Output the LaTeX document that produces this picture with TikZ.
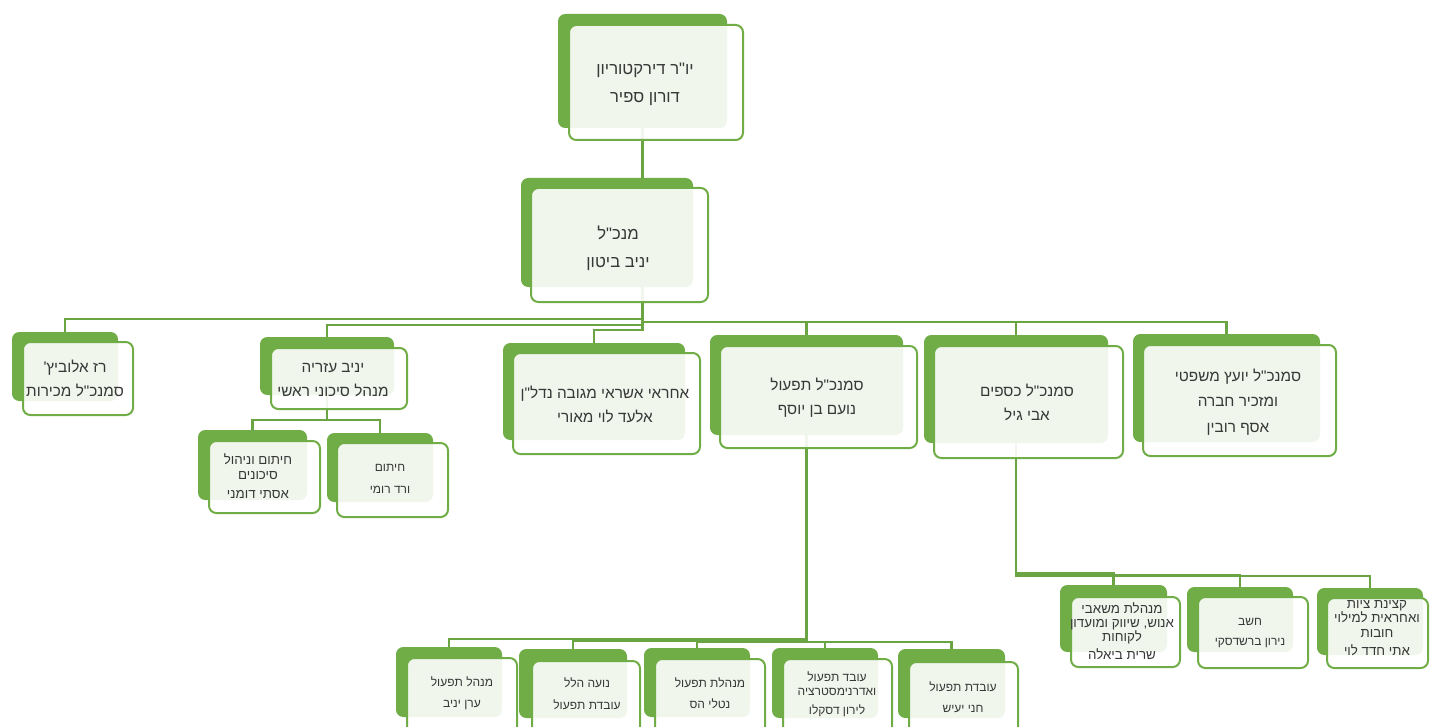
\documentclass[tikz,border=0pt]{standalone}
\usepackage{fontspec}
\newfontfamily\heb[Script=Hebrew]{Liberation Sans}
\TeXXeTstate=1
\usetikzlibrary{backgrounds}
\definecolor{gr}{HTML}{70AD47}
\definecolor{grline}{HTML}{6AA443}
\definecolor{tc}{HTML}{383838}
\newcommand{\hebline}[1]{\beginR #1\endR}
\newcommand{\orgbox}[9]{%
  \node[backbox, minimum width={(#4-#2)*0.75pt}, minimum height={(#5-#3)*0.75pt}] (#1B) at ({(#2+#4)/2},{(#3+#5)/2}) {};
  \node[frontbox, minimum width={(#8-#6)*0.75pt}, minimum height={(#9-#7)*0.75pt}] (#1F) at ({(#6+#8)/2},{(#7+#9)/2}) {};}
\tikzset{
  backbox/.style={rectangle, rounded corners=5.5pt, fill=gr, draw=none, inner sep=0pt, outer sep=0pt},
  frontbox/.style={rectangle, rounded corners=5.5pt, fill=white, fill opacity=0.9, draw=gr, draw opacity=1, line width=1.5pt, inner sep=0pt, outer sep=0pt},
  conn/.style={draw=grline, line width=1.6pt},
  tbig/.style={text=tc, align=center, inner sep=0pt, font={\heb\fontsize{12.5}{21}\selectfont}},
  tmid/.style={text=tc, align=center, inner sep=0pt, font={\heb\fontsize{11.5}{18}\selectfont}},
  tsmall/.style={text=tc, align=center, inner sep=0pt, font={\heb\fontsize{9}{10.5}\selectfont}},
  tsmallb/.style={text=tc, align=center, inner sep=0pt, font={\heb\fontsize{10}{10.8}\selectfont}},
}
\begin{document}
\begin{tikzpicture}[x=0.75pt,y=-0.75pt]
\useasboundingbox (0,0) rectangle (1430,727);
\clip (0,0) rectangle (1430,727);
% level 1
\orgbox{top}{558}{14}{727}{128}{569}{25}{743}{140}
\orgbox{ceo}{521}{178}{693}{287}{531}{188}{708}{302}
% level 2
\orgbox{raz}{12}{332}{118}{401}{23}{342}{133}{415}
\orgbox{yan}{260}{337}{394}{395}{271}{348}{407}{409}
\orgbox{ahr}{503}{343}{685}{440}{513}{353}{700}{454}
\orgbox{noam}{710}{335}{903}{435}{720}{346}{917}{448}
\orgbox{avi}{924}{335}{1108}{443}{934}{346}{1123}{458}
\orgbox{asaf}{1133}{334}{1320}{442}{1143}{345}{1336}{456}
% level 3 under Yaniv
\orgbox{hit}{198}{430}{307}{500}{209}{441}{320}{513}
\orgbox{ver}{327}{433}{433}{502}{337}{443}{448}{517}
% level 3 under Avi
\orgbox{shar}{1060}{585}{1167}{652}{1071}{597}{1180}{667}
\orgbox{hash}{1187}{587}{1293}{652}{1198}{597}{1308}{668}
\orgbox{kts}{1317}{588}{1423}{655}{1327}{598}{1428}{668}
% level 3 under Noam
\orgbox{eran}{396}{647}{502}{717}{407}{658}{517}{740}
\orgbox{noa}{519}{649}{627}{718}{532}{661}{640}{740}
\orgbox{nat}{644}{648}{750}{717}{655}{659}{765}{740}
\orgbox{lir}{772}{648}{878}{718}{783}{659}{892}{740}
\orgbox{hani}{898}{649}{1005}{718}{909}{662}{1018}{740}

% texts
\node[tbig] (topT) at (645,84) {\hebline{יו"ר דירקטוריון}\\\hebline{דורון ספיר}};
\node[tbig] (ceoT) at (618,248) {\hebline{מנכ"ל}\\\hebline{יניב ביטון}};
\node[tmid] (razT) at (75,378) {\hebline{רז אלוביץ'}\\\hebline{סמנכ"ל מכירות}};
\node[tmid] (yanT) at (333,380) {\hebline{יניב עזריה}\\\hebline{מנהל סיכוני ראשי}};
\node[tmid] (ahrT) at (605,404) {\hebline{אחראי אשראי מגובה נדל"ן}\\\hebline{אלעד לוי מאורי}};
\node[tmid] (noamT) at (817,398) {\hebline{סמנכ"ל תפעול}\\\hebline{נועם בן יוסף}};
\node[tmid] (aviT) at (1027,402) {\hebline{סמנכ"ל כספים}\\\hebline{אבי גיל}};
\node[tmid] (asafT) at (1238,402) {\hebline{סמנכ"ל יועץ משפטי}\\[1pt]\hebline{ומזכיר חברה}\\[1pt]\hebline{אסף רובין}};
\node[tsmallb] (hitT) at (258,476) {\hebline{חיתום וניהול}\\\hebline{סיכונים}\\[3.5pt]\hebline{אסתי דומני}};
\node[tsmall] (verT) at (390,479) {\hebline{חיתום}\\[6pt]\hebline{ורד רומי}};
\node[tsmallb] (sharT) at (1122,631) {\hebline{מנהלת משאבי}\\\hebline{אנוש, שיווק ומועדון}\\\hebline{לקוחות}\\[2.5pt]\hebline{שרית ביאלה}};
\node[tsmall] (hashT) at (1250,633) {\hebline{חשב}\\[5pt]\hebline{נירון ברשדסקי}};
\node[tsmallb] (ktsT) at (1377,628) {\hebline{קצינת ציות}\\\hebline{ואחראית למילוי}\\\hebline{חובות}\\[2.5pt]\hebline{אתי חדד לוי}};
\node[tsmall] (eranT) at (462,693) {\hebline{מנהל תפעול}\\[5pt]\hebline{ערן יניב}};
\node[tsmall] (noaT) at (587,694) {\hebline{נועה הלל}\\[6pt]\hebline{עובדת תפעול}};
\node[tsmall] (natT) at (710,693) {\hebline{מנהלת תפעול}\\[5pt]\hebline{נטלי הס}};
\node[tsmall] (lirT) at (837,694) {\hebline{עובד תפעול}\\\hebline{ואדרנימסטרציה}\\[4pt]\hebline{לירון דסקלו}};
\node[tsmall] (haniT) at (963,697) {\hebline{עובדת תפעול}\\[5pt]\hebline{חני יעיש}};

% connectors
\begin{scope}[on background layer]
\coordinate (ceoOut) at (topB.south |- ceoB.south);
\draw[conn] (topB.south) -- (topB.south |- ceoB.north);
\draw[conn] (ceoOut) -- ++(0,32) -| (razB.north);
\draw[conn] (ceoOut) -- ++(0,38) -| (yanB.north);
\draw[conn] (ceoOut) -- ++(0,43) -| (ahrB.north);
\draw[conn] (ceoOut) -- ++(0,35) -| (noamB.north);
\draw[conn] (ceoOut) -- ++(0,35) -| (aviB.north);
\draw[conn] (ceoOut) -- ++(0,35) -| (asafB.north);
\draw[conn] (yanB.south) -- ++(0,25) -| (hitB.north);
\draw[conn] (yanB.south) -- ++(0,25) -| (verB.north);
\draw[conn] (noamB.south) -- ++(0,204) -| (eranB.north);
\draw[conn] (noamB.south) -- ++(0,206) -| (noaB.north);
\draw[conn] (noamB.south) -- ++(0,207) -| (natB.north);
\draw[conn] (noamB.south) -- ++(0,207) -| (lirB.north);
\draw[conn] (noamB.south) -- ++(0,207) -| (haniB.north);
\draw[conn] (aviB.south) -- ++(0,130) -| (sharB.north);
\draw[conn] (aviB.south) -- ++(0,132) -| (hashB.north);
\draw[conn] (aviB.south) -- ++(0,133) -| (ktsB.north);
\end{scope}
\end{tikzpicture}
\end{document}
